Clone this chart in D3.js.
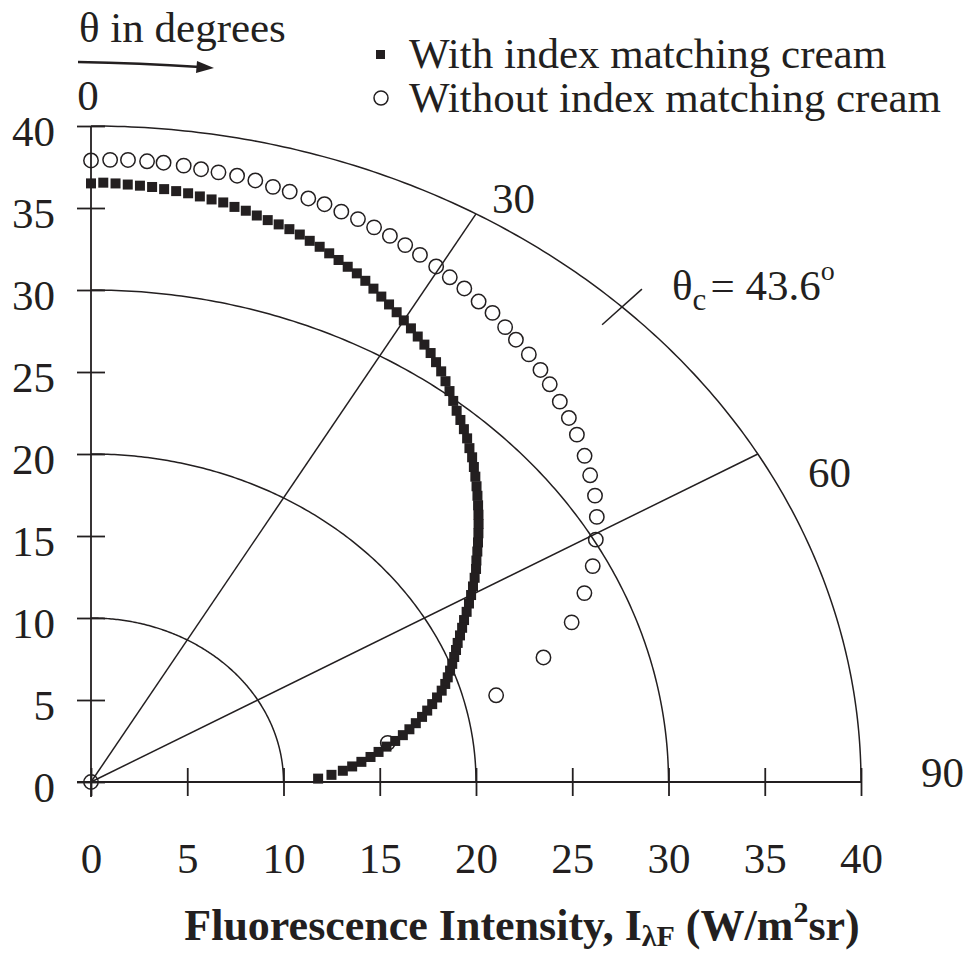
<!DOCTYPE html>
<html>
<head>
<meta charset="utf-8">
<script src="https://cdn.jsdelivr.net/npm/d3@7"></script>
<style>
body{margin:0;background:#fff}
text{font-family:"Liberation Serif","Times New Roman",serif;fill:#231f20}
</style>
</head>
<body>
<div id="chart"></div>
<script>

// intensity ticks (both axes) and angle labels
var ticks = [0,5,10,15,20,25,30,35,40]
var rings = [10,20,30,40]
var spokes = [30,60]
var angleLabels = [0,30,60,90]
var thetaC = 43.6

// with index matching cream (angle in degrees, intensity W/m2sr)
var angWith = [0,1,2,3,4,5,6,7,8,9,10,11,12,13,14,15,16,17,18,19,
	20,21,22,23,24,25,26,27,28,29,30,31,32,33,34,35,36,37,38,39,
	40,41,42,43,44,45,46,47,48,49,50,51,52,53,54,55,56,57,58,59,
	60,61,62,63,64,65,66,67,68,69,70,71,72,73,74,75,76,77,78,79,
	80,81,82,83,84,85,86,87,88,89]
var rWith = [36.5,36.55,36.52,36.48,36.45,36.42,36.35,36.3,36.25,36.15,
	36.07,36.0,35.85,35.75,35.6,35.47,35.37,35.25,35.1,34.9,
	34.73,34.53,34.33,34.13,33.95,33.72,33.47,33.22,32.98,32.75,
	32.5,32.27,32.03,31.8,31.55,31.25,30.95,30.6,30.25,29.9,
	29.55,29.25,28.95,28.65,28.3,28.0,27.65,27.3,26.95,26.6,
	26.25,25.9,25.55,25.2,24.85,24.5,24.15,23.85,23.5,23.15,
	22.8,22.45,22.1,21.75,21.45,21.15,20.85,20.6,20.35,20.1,
	19.85,19.6,19.35,19.05,18.7,18.35,18.0,17.65,17.25,16.85,
	16.45,16.0,15.5,15.05,14.6,14.1,13.6,13.1,12.5,11.8]

// without index matching cream
var angWithout = [0,1.5,2.9,4.4,5.7,7.3,8.7,10.1,11.6,13.1,
	14.6,16.0,17.6,19.0,20.5,22.0,23.5,25.0,26.5,28.0,
	29.7,31.2,32.8,34.5,36.1,37.8,39.3,41.1,42.9,44.5,
	46.4,48.2,50.0,52.2,54.2,56.3,58.4,60.6,63.2,65.8,
	68.7,72.1,75.9,81.2,90]
var rWithout = [37.9,37.95,37.98,37.96,37.95,37.89,37.8,37.76,37.74,37.66,
	37.5,37.45,37.33,37.26,37.13,37.02,36.88,36.74,36.58,36.4,
	36.19,35.98,35.8,35.55,35.4,35.1,34.85,34.6,34.3,34.0,
	33.63,33.3,32.95,32.45,31.97,31.47,30.85,30.1,29.2,28.1,
	26.8,24.7,21.7,15.6,0]

var ink = "#231f20"
var width = 969, height = 960

var svg = d3.select("#chart").append("svg").attr("width",width).attr("height",height)

var x = d3.scaleLinear().domain([0,40]).range([91,861])
var y = d3.scaleLinear().domain([0,40]).range([782,126])

var rad = function(a){ return a*Math.PI/180 }
var px = function(r,a){ return x(r*Math.sin(rad(a))) }
var py = function(r,a){ return y(r*Math.cos(rad(a))) }

// rings
var arcAngles = d3.range(0,90.5,0.5)
var ringLine = d3.line().x(function(d){return d[0]}).y(function(d){return d[1]})
svg.append("g").selectAll("path").data(rings).enter().append("path")
	.attr("d", function(r){ return ringLine(arcAngles.map(function(a){ return [px(r,a),py(r,a)] })) })
	.attr("fill","none").attr("stroke",ink).attr("stroke-width",1.5)

// spokes
svg.append("g").selectAll("line").data(spokes).enter().append("line")
	.attr("x1",x(0)).attr("y1",y(0))
	.attr("x2",function(a){return px(40,a)}).attr("y2",function(a){return py(40,a)})
	.attr("stroke",ink).attr("stroke-width",1.5)

// critical angle mark
svg.append("line")
	.attr("x1",px(38.5,thetaC)).attr("y1",py(38.5,thetaC))
	.attr("x2",px(41.5,thetaC)).attr("y2",py(41.5,thetaC))
	.attr("stroke",ink).attr("stroke-width",1.5)

// axes
var yAxis = svg.append("g").attr("transform","translate("+x(0)+",0)")
	.call(d3.axisLeft(y).tickValues(ticks).tickSizeOuter(0).tickSize(14).tickPadding(22))
var xAxis = svg.append("g").attr("transform","translate(0,"+y(0)+")")
	.call(d3.axisBottom(x).tickValues(ticks).tickSizeOuter(0).tickSize(14).tickPadding(46))
yAxis.select(".domain").remove()
xAxis.select(".domain").remove()
yAxis.selectAll(".tick line").attr("x1",-14).attr("x2",14).attr("stroke",ink).attr("stroke-width",1.8)
xAxis.selectAll(".tick line").attr("y1",-14).attr("y2",14).attr("stroke",ink).attr("stroke-width",1.8)
svg.selectAll(".tick text").style("font-family","'Liberation Serif',serif").style("font-size","43px").attr("fill",ink)
yAxis.selectAll(".tick text").attr("dy","0.35em").attr("y",4)
svg.append("line").attr("x1",x(0)).attr("x2",x(0)).attr("y1",y(40)).attr("y2",y(0)+15)
	.attr("stroke",ink).attr("stroke-width",1.8)
svg.append("line").attr("x1",x(0)-14).attr("x2",x(40)).attr("y1",y(0)).attr("y2",y(0))
	.attr("stroke",ink).attr("stroke-width",1.8)

// angle labels
var angPos = {0:[88,110,"middle"],30:[492,213,"start"],60:[808,487,"start"],90:[921,787,"start"]}
svg.append("g").selectAll("text").data(angleLabels).enter().append("text")
	.attr("x",function(a){return angPos[a][0]}).attr("y",function(a){return angPos[a][1]})
	.attr("text-anchor",function(a){return angPos[a][2]})
	.style("font-size","43px").text(function(a){return a})

// data: with cream (squares)
var withPts = angWith.map(function(a,i){ return {a:a, r:rWith[i]} })
svg.append("g").selectAll("rect").data(withPts).enter().append("rect")
	.attr("x",function(d){return px(d.r,d.a)-5}).attr("y",function(d){return py(d.r,d.a)-5})
	.attr("width",10).attr("height",10).attr("fill",ink)

// data: without cream (open circles)
var withoutPts = angWithout.map(function(a,i){ return {a:a, r:rWithout[i]} })
svg.append("g").selectAll("circle").data(withoutPts).enter().append("circle")
	.attr("cx",function(d){return px(d.r,d.a)}).attr("cy",function(d){return py(d.r,d.a)})
	.attr("r",7.2).attr("fill","none").attr("stroke",ink).attr("stroke-width",1.5)

// theta label and arrow
svg.append("text").attr("x",79).attr("y",42).style("font-size","43px").text("θ in degrees")
svg.append("path").attr("d","M78,62 Q140,63 200,67").attr("fill","none").attr("stroke",ink).attr("stroke-width",2.5)
svg.append("path").attr("d","M214,68 L197,61 L196,73 Z").attr("fill",ink)

// legend
svg.append("rect").attr("x",376).attr("y",50).attr("width",9).attr("height",9).attr("fill",ink)
svg.append("text").attr("x",409).attr("y",68).style("font-size","43px").text("With index matching cream")
svg.append("circle").attr("cx",381).attr("cy",98).attr("r",7).attr("fill","none").attr("stroke",ink).attr("stroke-width",1.5)
svg.append("text").attr("x",409).attr("y",112).style("font-size","43px").text("Without index matching cream")

// critical angle label
var tc = svg.append("text").attr("x",672).attr("y",300).style("font-size","43px")
tc.append("tspan").text("θ")
tc.append("tspan").attr("dy",10).style("font-size","31px").text("c")
tc.append("tspan").attr("dy",-10).attr("dx",4).text("= 43.6")
tc.append("tspan").attr("dy",-20).style("font-size","28px").text("o")

// x axis title
var tt = svg.append("text").attr("x",522).attr("y",940).attr("text-anchor","middle")
	.style("font-size","44px").style("font-weight","bold")
tt.append("tspan").text("Fluorescence Intensity, I")
tt.append("tspan").attr("dy",6).style("font-size","30px").text("λF")
tt.append("tspan").attr("dy",-6).text(" (W/m")
tt.append("tspan").attr("dy",-18).style("font-size","30px").text("2")
tt.append("tspan").attr("dy",18).text("sr)")

</script>
</body>
</html>
